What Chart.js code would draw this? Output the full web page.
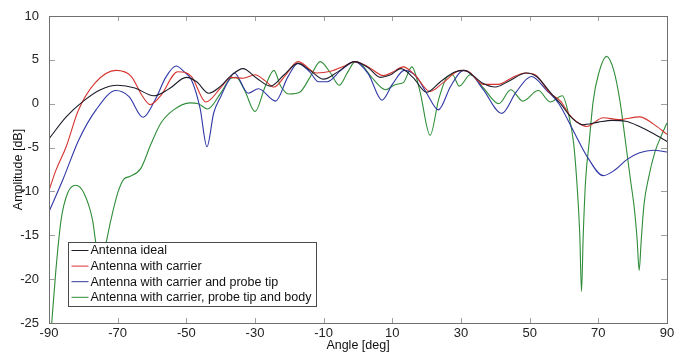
<!DOCTYPE html>
<html>
<head>
<meta charset="utf-8">
<script src="https://cdn.jsdelivr.net/npm/chart.js@4.4.1/dist/chart.umd.min.js"></script>
<style>
  body { margin: 0; background: #fff; }
</style>
</head>
<body>
<canvas id="pattern" width="686" height="353"></canvas>
<script>
// tick labels
const xTicks = [-90, -70, -50, -30, -10, 10, 30, 50, 70, 90];
const yTicks = [-25, -20, -15, -10, -5, 0, 5, 10];

const names = ['Antenna ideal', 'Antenna with carrier', 'Antenna with carrier and probe tip', 'Antenna with carrier, probe tip and body'];
const colors = ['#1d1d2b', '#d6332f', '#2f37a6', '#2f8d38'];

// Antenna ideal
const idealAngle = [-90, -85, -80, -75, -70, -65, -59.5, -55, -50, -47, -43.5, -40, -37, -33.5, -29.5, -25.5, -21.5, -17.5, -14, -10, -6, -1, 3, 6.5, 9.5, 12.5, 16, 20, 24, 28, 31, 33.5, 36.5, 40, 44, 49, 52, 56, 59, 62, 65.5, 70, 74, 78, 82, 86, 90];
const idealAmp = [-4.0, -1.5, 0.3, 1.6, 2.1, 1.8, 0.9, 1.7, 3.0, 2.5, 1.2, 2.0, 3.2, 4.0, 2.9, 2.0, 3.3, 4.6, 3.8, 2.8, 3.6, 4.8, 4.1, 3.0, 3.3, 4.0, 3.0, 1.3, 2.5, 3.6, 3.8, 3.2, 2.3, 1.9, 2.6, 3.5, 3.1, 1.3, 0.0, -1.5, -2.4, -2.1, -1.9, -2.0, -2.6, -3.4, -4.3];

// with carrier
const carrierAngle = [-90, -88, -85, -81.5, -76.5, -70.5, -66, -63, -60.5, -57.5, -52.5, -48.5, -44.3, -40, -37, -33.5, -30, -27, -24.5, -21, -17.5, -12, -8, -4, -1, 3, 7.4, 10, 13.2, 16.5, 21, 24.8, 29.8, 32, 36.5, 40.8, 45, 48.7, 51.6, 55.9, 59, 61.5, 63.5, 66.6, 71.4, 76, 82, 86, 90];
const carrierAmp = [-9.9, -7.6, -4.9, -0.8, 2.4, 3.8, 3.1, 1.0, -0.1, 0.9, 3.65, 3.1, 0.2, 1.8, 3.0, 2.9, 3.3, 2.6, 1.9, 3.3, 4.8, 3.5, 3.7, 4.3, 4.8, 4.2, 3.2, 3.6, 4.2, 3.3, 1.4, 2.4, 3.8, 3.7, 2.2, 2.2, 3.0, 3.5, 3.3, 1.2, 0.3, -1.2, -2.0, -2.6, -1.6, -1.8, -1.5, -2.3, -3.5];

// with carrier and probe tip
const tipAngle = [-90, -86, -81.3, -76.3, -70.5, -66.7, -62.6, -59, -56, -53, -50.5, -48.5, -46, -44, -42, -40, -37.6, -36, -32, -29, -24, -20.5, -17.5, -14, -11.5, -9, -5, -1, 3, 7, 10, 13.5, 17, 20, 23.4, 27, 30.7, 33, 36.5, 41.9, 46, 50.5, 55, 58.5, 63, 67, 71.4, 75, 78.2, 82, 86, 90];
const tipAmp = [-12.3, -8.7, -4.1, -0.7, 1.5, 0.8, -1.55, 0.5, 3.0, 4.3, 3.6, 2.7, -0.5, -4.9, -1.0, 0.8, 2.7, 3.5, 1.2, 1.7, 0.3, 3.0, 4.6, 3.6, 2.5, 2.5, 3.8, 4.8, 3.4, 0.4, 2.2, 3.8, 3.1, 1.2, -0.7, 2.0, 3.8, 3.4, 1.6, -1.1, 1.3, 3.1, 1.5, 0.0, -3.3, -6.2, -8.2, -7.5, -6.4, -5.6, -5.3, -5.5];

// with carrier, probe tip and body
const bodyAngle = [-89.5, -88, -86.5, -84.6, -82.2, -79.8, -77.3, -76.3, -74.8, -73.4, -72, -70, -68.2, -66.5, -63.3, -60.3, -57.4, -53.7, -49, -46.5, -43.8, -40, -37, -35.5, -33, -30, -27, -24.5, -22.5, -20, -17, -14, -11, -8, -5.5, -3, -0.8, 0.7, 4, 8, 11, 13.2, 15.7, 18, 21, 23.5, 26, 27.5, 29.5, 32.7, 36.5, 41, 44.5, 48, 52.5, 56, 59.5, 61.5, 62.8, 63.7, 64.6, 65.1, 65.6, 66.3, 67.3, 68.5, 70, 72.4, 74.5, 76.3, 77.8, 79.3, 80.5, 81.3, 81.9, 82.5, 83.3, 84.6, 86.5, 88.5, 90];
const bodyAmp = [-26.5, -19, -13.3, -10.2, -9.3, -10.2, -13.3, -16, -17.8, -15.9, -13.3, -10.2, -8.6, -8.3, -7.4, -4.6, -2.2, -0.7, 0.1, 0.0, -0.6, 1.2, 2.9, 3.0, 1.5, -0.9, 2.0, 3.8, 2.0, 1.1, 1.3, 3.0, 4.8, 3.5, 2.1, 3.6, 4.8, 4.6, 3.0, 1.6, 2.2, 2.4, 4.2, 1.5, -3.6, 0.5, 3.1, 3.3, 2.0, 3.3, 1.8, 0.0, 1.6, 0.3, 1.5, 0.2, 0.9, -1.5, -4.5, -8.7, -15, -21.4, -15, -8.7, -4.5, 0.3, 3.3, 5.4, 3.8, 0.3, -4, -8.5, -12, -15.5, -19, -15.5, -11.5, -8.5, -5.5, -3.5, -2.2];

const series = [[idealAngle, idealAmp], [carrierAngle, carrierAmp], [tipAngle, tipAmp], [bodyAngle, bodyAmp]];

const fontFam = '"Liberation Sans", Arial, sans-serif';

// matlab style box, inward ticks and legend inside the axes
const boxPlugin = {
  id: 'boxPlugin',
  afterDatasetsDraw(chart) {
    const ctx = chart.ctx;
    const a = chart.chartArea;
    const xs = chart.scales.x, ys = chart.scales.y;
    ctx.save();
    ctx.lineWidth = 1;
    ctx.strokeStyle = '#a0a0a0';
    ctx.beginPath();
    xTicks.forEach(v => {
      const px = Math.round(xs.getPixelForValue(v)) + 0.5;
      ctx.moveTo(px, a.bottom); ctx.lineTo(px, a.bottom - 5);
      ctx.moveTo(px, a.top); ctx.lineTo(px, a.top + 5);
    });
    yTicks.forEach(v => {
      const py = Math.round(ys.getPixelForValue(v)) + 0.5;
      ctx.moveTo(a.left, py); ctx.lineTo(a.left + 6, py);
      ctx.moveTo(a.right, py); ctx.lineTo(a.right - 6, py);
    });
    ctx.stroke();
    ctx.strokeStyle = '#707070';
    ctx.strokeRect(Math.round(a.left) + 0.5, Math.round(a.top) + 0.5, Math.round(a.right - a.left), Math.round(a.bottom - a.top));

    // legend
    const lx = Math.round(a.left) + 19.5, ly = Math.round(a.bottom) - 80.5;
    ctx.fillStyle = '#fff';
    ctx.fillRect(lx, ly, 248, 64);
    ctx.strokeStyle = '#4a4a4a';
    ctx.strokeRect(lx, ly, 248, 64);
    ctx.font = '12.5px ' + fontFam;
    ctx.textBaseline = 'middle';
    names.forEach((n, i) => {
      const yy = ly + 8 + i * 15.6;
      ctx.strokeStyle = colors[i];
      ctx.beginPath();
      ctx.moveTo(lx + 3, yy); ctx.lineTo(lx + 20, yy);
      ctx.stroke();
      ctx.fillStyle = '#111';
      ctx.fillText(n, lx + 22, yy + 0.5);
    });
    ctx.restore();
  }
};

new Chart(document.getElementById('pattern'), {
  type: 'line',
  data: {
    datasets: series.map((s, i) => ({
      label: names[i],
      data: s[0].map((ang, k) => ({ x: ang, y: s[1][k] })),
      borderColor: colors[i],
      borderWidth: 1.1,
      pointRadius: 0,
      fill: false,
      cubicInterpolationMode: 'monotone'
    }))
  },
  options: {
    responsive: false,
    animation: false,
    layout: { padding: { top: 16, right: 19, left: 0, bottom: 0 } },
    plugins: { legend: { display: false }, tooltip: { enabled: false } },
    scales: {
      x: {
        type: 'linear',
        min: -90,
        max: 90,
        afterBuildTicks: s => { s.ticks = xTicks.map(v => ({ value: v })); },
        afterFit: s => { s.height = 30; },
        grid: { display: false },
        border: { display: false },
        ticks: { font: { family: fontFam, size: 13 }, color: '#222', padding: -5, maxRotation: 0, autoSkip: false },
        title: { display: true, text: 'Angle [deg]', font: { family: fontFam, size: 12.5 }, color: '#111', padding: { top: 0, bottom: 0 } }
      },
      y: {
        min: -25,
        max: 10,
        afterBuildTicks: s => { s.ticks = yTicks.map(v => ({ value: v })); },
        afterFit: s => { s.width = 49; },
        grid: { display: false },
        border: { display: false },
        ticks: { font: { family: fontFam, size: 13 }, color: '#222', padding: 2 },
        title: { display: true, text: 'Amplitude [dB]', font: { family: fontFam, size: 12.5 }, color: '#111', padding: { top: 11, bottom: 0 } }
      }
    }
  },
  plugins: [boxPlugin]
});
</script>
</body>
</html>
